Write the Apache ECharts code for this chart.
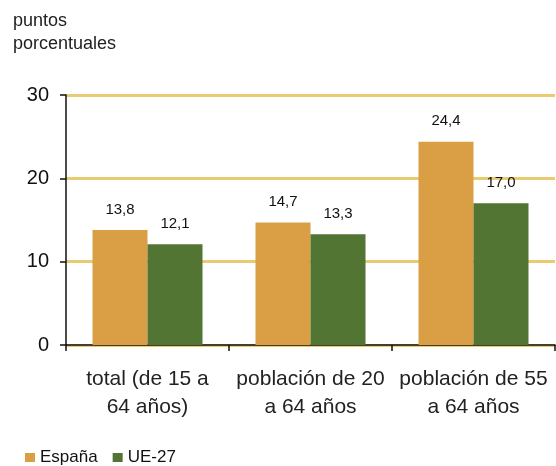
<!DOCTYPE html>
<html>
<head>
<meta charset="utf-8">
<script src="https://cdn.jsdelivr.net/npm/echarts@6/dist/echarts.min.js"></script>
<style>
  html, body { margin: 0; padding: 0; background: #fff; }
  #chart { width: 556px; height: 466px; }
</style>
</head>
<body>
<div id="chart"></div>
<script>
// datos
var categorias = ['total (de 15 a\n64 años)', 'población de 20\na 64 años', 'población de 55\na 64 años'];
var espana = [13.8, 14.7, 24.4];
var ue27 = [12.1, 13.3, 17.0];
var yTicks = [0, 10, 20, 30];

var fuente = "'Liberation Sans', Arial, sans-serif";

function coma(p) {
  return p.value.toFixed(1).replace('.', ',');
}

var chart = echarts.init(document.getElementById('chart'), null, { renderer: 'canvas' });

var option = {
  animation: false,
  backgroundColor: '#fff',
  color: ['#DA9F45', '#527533'],
  title: {
    text: 'puntos\nporcentuales',
    left: 13,
    top: 10,
    padding: 0,
    textStyle: {
      fontFamily: fuente,
      fontSize: 18,
      fontWeight: 'normal',
      color: '#222',
      lineHeight: 23
    }
  },
  legend: {
    left: 20,
    top: 444,
    icon: 'rect',
    itemWidth: 10,
    itemHeight: 9,
    itemGap: 15,
    textStyle: { fontFamily: fuente, fontSize: 17, color: '#111' },
    data: ['España', 'UE-27']
  },
  grid: {
    left: 66,
    right: 1,
    top: 95,
    bottom: 121
  },
  xAxis: {
    type: 'category',
    data: categorias,
    axisLine: { lineStyle: { color: '#111', width: 1.5 } },
    axisTick: { show: true, length: 6, lineStyle: { color: '#111', width: 1.5 } },
    axisLabel: {
      fontFamily: fuente,
      fontSize: 21,
      color: '#222',
      lineHeight: 28,
      margin: 20,
      interval: 0
    }
  },
  yAxis: {
    type: 'value',
    min: yTicks[0],
    max: yTicks[yTicks.length - 1],
    interval: 10,
    axisLine: { show: true, lineStyle: { color: '#111', width: 1.5 } },
    axisTick: { show: true, length: 6, lineStyle: { color: '#111', width: 1.5 } },
    axisLabel: { fontFamily: fuente, fontSize: 20, color: '#111', margin: 17 },
    splitLine: { lineStyle: { color: '#E9CB72', width: 3 } }
  },
  series: [
    {
      name: 'España',
      type: 'bar',
      barWidth: 55,
      barGap: '0%',
      data: espana,
      label: {
        show: true,
        position: 'top',
        distance: 13,
        formatter: coma,
        fontFamily: fuente,
        fontSize: 15,
        color: '#111'
      }
    },
    {
      name: 'UE-27',
      type: 'bar',
      barWidth: 55,
      data: ue27,
      label: {
        show: true,
        position: 'top',
        distance: 13,
        formatter: coma,
        fontFamily: fuente,
        fontSize: 15,
        color: '#111'
      }
    }
  ]
};

chart.setOption(option);
</script>
</body>
</html>
